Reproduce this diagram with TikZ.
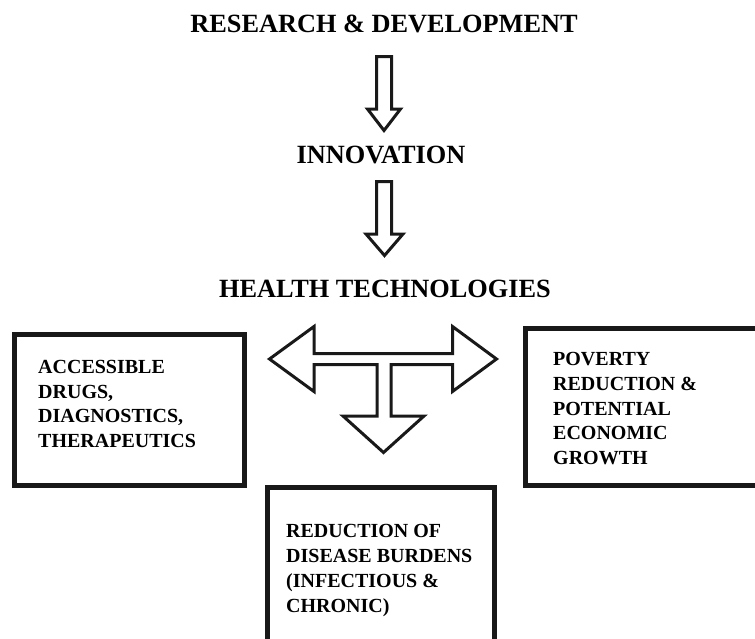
\documentclass[tikz,border=0pt]{standalone}
\usepackage{fontspec}
\setmainfont{Liberation Serif}
\begin{document}
\begin{tikzpicture}[x=1pt,y=-1pt,
  titletext/.style={font=\bfseries\fontsize{26.3}{30}\selectfont, inner sep=0pt, anchor=base},
  boxtext/.style={font=\bfseries\fontsize{20}{24.7}\selectfont, inner sep=0pt, anchor=base west, align=left},
  framebox/.style={draw=black!90, line width=4.6pt, line join=miter},
  blockarrow/.style={draw=black!90, line width=3pt, line join=miter, fill=white}]
\useasboundingbox (0,0) rectangle (755,638);
\clip (0,0) rectangle (755,638);
% titles
\node[titletext] (rd) at (384,32) {RESEARCH \& DEVELOPMENT};
\node[titletext] (inn) at (381,163) {INNOVATION};
\node[titletext] (ht) at (385,297) {HEALTH TECHNOLOGIES};
% vertical block arrows
\draw[blockarrow] (376.5,56.5) -- (391.5,56.5) -- (391.5,109) -- (400.5,109) -- (384,130.5) -- (367.5,109) -- (376.5,109) -- cycle;
\draw[blockarrow] (376.5,181.5) -- (391.5,181.5) -- (391.5,234) -- (403,234) -- (384.5,255.5) -- (366,234) -- (376.5,234) -- cycle;
% T-shaped arrow
\draw[blockarrow] (269.5,359) -- (314,326.5) -- (314,353.5) -- (452.5,353.5) -- (452.5,326.5) -- (496.5,359)
  -- (452.5,391.5) -- (452.5,364.5) -- (391,364.5) -- (391,416) -- (424,416) -- (383.5,452.5)
  -- (343,416) -- (377,416) -- (377,364.5) -- (314,364.5) -- (314,391.5) -- cycle;
% boxes
\draw[framebox] (14.5,334.5) rectangle (244.5,485.5);
\draw[framebox] (525.3,328.3) rectangle (780,485.7);
\draw[framebox] (267.3,487.3) rectangle (494.7,660);
% box texts (anchored at the baseline of the last line)
\node[boxtext] (lt) at (38,447.5) {ACCESSIBLE\\DRUGS,\\DIAGNOSTICS,\\THERAPEUTICS};
\node[boxtext] (rt) at (553,464.5) {POVERTY\\REDUCTION \&\\POTENTIAL\\ECONOMIC\\GROWTH};
\node[boxtext] (bt) at (286,612) {REDUCTION OF\\DISEASE BURDENS\\(INFECTIOUS \&\\CHRONIC)};
\end{tikzpicture}
\end{document}
